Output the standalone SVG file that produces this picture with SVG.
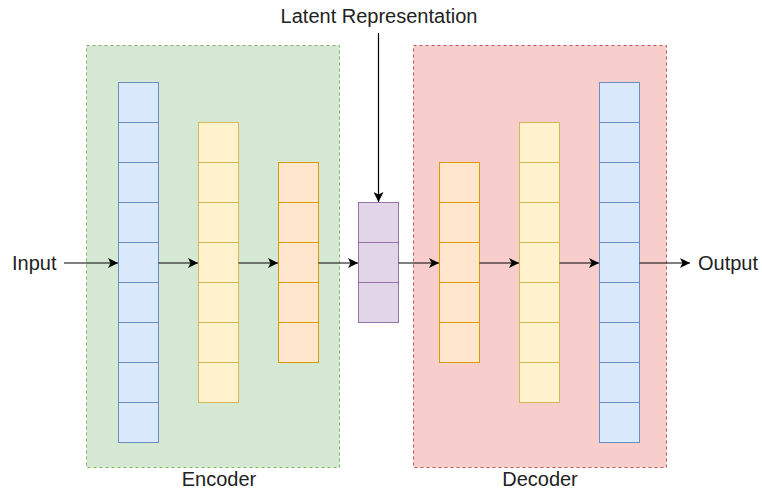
<svg xmlns="http://www.w3.org/2000/svg" width="762" height="490" viewBox="0 0 762 490">
<style>
text{font-family:"Liberation Sans",Arial,sans-serif;font-size:20px;fill:#222}
.enc{fill:#d5e8d4;stroke:#82b366;stroke-dasharray:3 3}
.dec{fill:#f8cecc;stroke:#b85450;stroke-dasharray:3 3}
.b{fill:#dae8fc;stroke:#6c8ebf}
.y{fill:#fff2cc;stroke:#d6b656}
.o{fill:#ffe6cc;stroke:#d79b00}
.p{fill:#e1d5e7;stroke:#9673a6}
.c{stroke:#000;stroke-width:1.2;fill:none;marker-end:url(#ah)}
</style>
<defs>
<marker id="ah" markerWidth="12" markerHeight="10" refX="10" refY="5" orient="auto" markerUnits="userSpaceOnUse">
<path d="M0,0 L10,5 L0,10 L2.5,5 Z" fill="#000"/>
</marker>
</defs>
<g id="encoder"><rect class="enc" x="86.5" y="45.5" width="253" height="422"/><text x="219" y="486" text-anchor="middle">Encoder</text></g>
<g id="decoder"><rect class="dec" x="413.5" y="45.5" width="253" height="422"/><text x="540" y="486" text-anchor="middle">Decoder</text></g>
<g id="enc-blue">
<rect class="b" x="118.5" y="82.5" width="40" height="40"/><rect class="b" x="118.5" y="122.5" width="40" height="40"/><rect class="b" x="118.5" y="162.5" width="40" height="40"/><rect class="b" x="118.5" y="202.5" width="40" height="40"/><rect class="b" x="118.5" y="242.5" width="40" height="40"/><rect class="b" x="118.5" y="282.5" width="40" height="40"/><rect class="b" x="118.5" y="322.5" width="40" height="40"/><rect class="b" x="118.5" y="362.5" width="40" height="40"/><rect class="b" x="118.5" y="402.5" width="40" height="40"/>
</g>
<g id="enc-yellow">
<rect class="y" x="198.5" y="122.5" width="40" height="40"/><rect class="y" x="198.5" y="162.5" width="40" height="40"/><rect class="y" x="198.5" y="202.5" width="40" height="40"/><rect class="y" x="198.5" y="242.5" width="40" height="40"/><rect class="y" x="198.5" y="282.5" width="40" height="40"/><rect class="y" x="198.5" y="322.5" width="40" height="40"/><rect class="y" x="198.5" y="362.5" width="40" height="40"/>
</g>
<g id="enc-orange">
<rect class="o" x="278.5" y="162.5" width="40" height="40"/><rect class="o" x="278.5" y="202.5" width="40" height="40"/><rect class="o" x="278.5" y="242.5" width="40" height="40"/><rect class="o" x="278.5" y="282.5" width="40" height="40"/><rect class="o" x="278.5" y="322.5" width="40" height="40"/>
</g>
<g id="latent">
<rect class="p" x="358.5" y="202.5" width="40" height="40"/><rect class="p" x="358.5" y="242.5" width="40" height="40"/><rect class="p" x="358.5" y="282.5" width="40" height="40"/>
</g>
<g id="dec-orange">
<rect class="o" x="439.5" y="162.5" width="40" height="40"/><rect class="o" x="439.5" y="202.5" width="40" height="40"/><rect class="o" x="439.5" y="242.5" width="40" height="40"/><rect class="o" x="439.5" y="282.5" width="40" height="40"/><rect class="o" x="439.5" y="322.5" width="40" height="40"/>
</g>
<g id="dec-yellow">
<rect class="y" x="519.5" y="122.5" width="40" height="40"/><rect class="y" x="519.5" y="162.5" width="40" height="40"/><rect class="y" x="519.5" y="202.5" width="40" height="40"/><rect class="y" x="519.5" y="242.5" width="40" height="40"/><rect class="y" x="519.5" y="282.5" width="40" height="40"/><rect class="y" x="519.5" y="322.5" width="40" height="40"/><rect class="y" x="519.5" y="362.5" width="40" height="40"/>
</g>
<g id="dec-blue">
<rect class="b" x="599.5" y="82.5" width="40" height="40"/><rect class="b" x="599.5" y="122.5" width="40" height="40"/><rect class="b" x="599.5" y="162.5" width="40" height="40"/><rect class="b" x="599.5" y="202.5" width="40" height="40"/><rect class="b" x="599.5" y="242.5" width="40" height="40"/><rect class="b" x="599.5" y="282.5" width="40" height="40"/><rect class="b" x="599.5" y="322.5" width="40" height="40"/><rect class="b" x="599.5" y="362.5" width="40" height="40"/><rect class="b" x="599.5" y="402.5" width="40" height="40"/>
</g>
<g id="input"><text x="12" y="270">Input</text></g>
<g id="output"><text x="698" y="270">Output</text></g>
<g id="latent-label"><text x="379" y="23" text-anchor="middle">Latent Representation</text></g>
<g id="connectors">
<line class="c" x1="64" y1="263" x2="118" y2="263"/>
<line class="c" x1="158.5" y1="263" x2="198" y2="263"/>
<line class="c" x1="238.5" y1="263" x2="278" y2="263"/>
<line class="c" x1="318.5" y1="263" x2="358" y2="263"/>
<line class="c" x1="398.5" y1="263" x2="439" y2="263"/>
<line class="c" x1="479.5" y1="263" x2="519" y2="263"/>
<line class="c" x1="559.5" y1="263" x2="599" y2="263"/>
<line class="c" x1="639.5" y1="263" x2="690" y2="263"/>
<line class="c" x1="378.5" y1="33" x2="378.5" y2="202"/>
</g>
</svg>
